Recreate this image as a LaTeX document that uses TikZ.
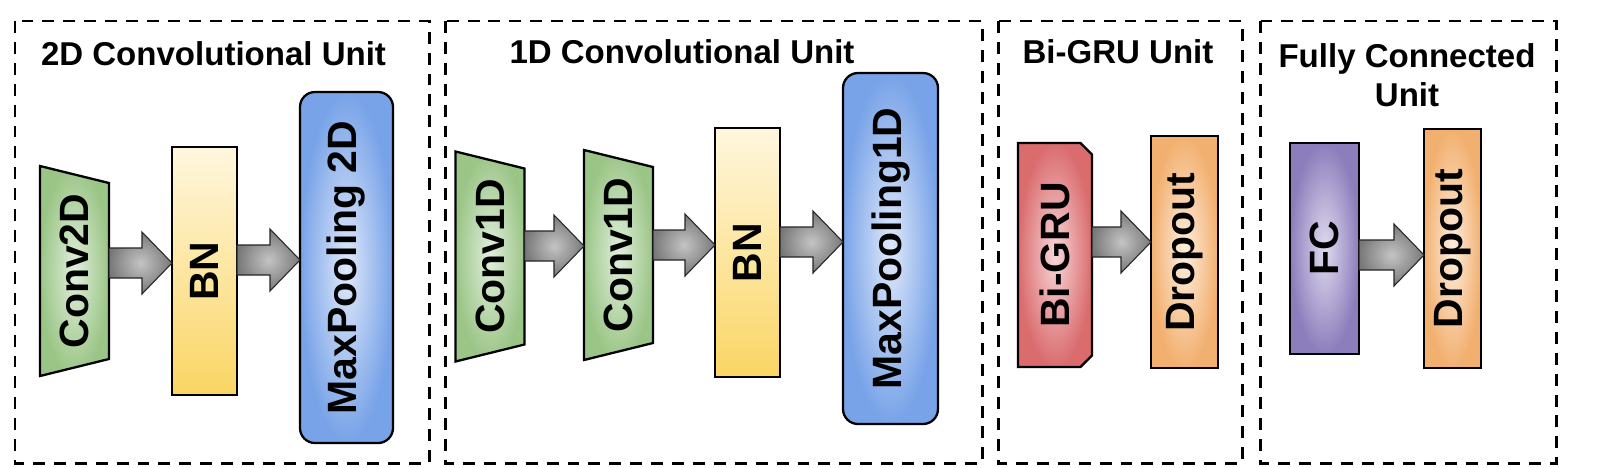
\documentclass[tikz,border=0pt]{standalone}
\usepackage{fontspec}
\setmainfont{Liberation Sans}
\usetikzlibrary{calc,shapes.misc}
\definecolor{convout}{RGB}{155,197,135}
\definecolor{convin} {RGB}{224,239,218}
\definecolor{bntop}  {RGB}{255,247,222}
\definecolor{bnbot}  {RGB}{250,213,100}
\definecolor{poolout}{RGB}{120,163,232}
\definecolor{poolin} {RGB}{224,233,250}
\definecolor{gruout} {RGB}{218,108,110}
\definecolor{gruin}  {RGB}{248,214,216}
\definecolor{dropout}{RGB}{242,176,112}
\definecolor{dropin} {RGB}{254,238,222}
\definecolor{fcout}  {RGB}{140,126,188}
\definecolor{fcin}   {RGB}{224,218,239}
\definecolor{flowout}{RGB}{120,120,120}
\definecolor{flowin} {RGB}{196,196,196}

\tikzset{
    dims/.style 2 args={minimum width=#1*0.02cm,minimum height=#2*0.02cm},
    unit/.style={draw,line width=1.7pt,dash pattern=on 6.8pt off 5.1pt},
    heading/.style={anchor=base,align=center,font=\bfseries\fontsize{18.8}{22.2}\selectfont},
    convbox/.style={draw,line width=1.3pt,shading=radial,inner color=convin,outer color=convout},
    bnbox/.style={draw,line width=1.3pt,top color=bntop,bottom color=bnbot},
    poolbox/.style={draw,line width=1.3pt,rounded corners=0.3cm,shading=radial,inner color=poolin,outer color=poolout},
    grubox/.style={draw,line width=1.3pt,chamfered rectangle,chamfered rectangle corners={north east,south east},
      chamfered rectangle xsep=0.11cm,chamfered rectangle ysep=0.12cm,shading=radial,inner color=gruin,outer color=gruout},
    dropbox/.style={draw,line width=1.3pt,shading=radial,inner color=dropin,outer color=dropout},
    fcbox/.style={draw,line width=1.3pt,shading=radial,inner color=fcin,outer color=fcout},
    flow/.style={draw=black!85,line width=0.6pt,shading=radial,inner color=flowin,outer color=flowout}
}

\newcommand\vtext[1]{\rotatebox{90}{#1}}
% trapezoid conv block: name, x, y, text
\newcommand\convunit[4]{%
  \path[convbox] (#2-34.5,#3-105) -- (#2+34.5,#3-88) -- (#2+34.5,#3+88) -- (#2-34.5,#3+105) -- cycle;
  \node[dims={69}{210}] (#1) at (#2,#3) {\vtext{#4}};}
% block arrow: from, to, y
\newcommand\blockarrow[3]{%
  \path[flow] ($(#1.east |- 0,#3)+(0,-15)$) -- ($(#2.west |- 0,#3)+(-30,-15)$)
    -- ($(#2.west |- 0,#3)+(-30,-31)$) -- (#2.west |- 0,#3)
    -- ($(#2.west |- 0,#3)+(-30,31)$) -- ($(#2.west |- 0,#3)+(-30,15)$)
    -- ($(#1.east |- 0,#3)+(0,15)$) -- cycle;}

\begin{document}
\begin{tikzpicture}[x=0.02cm,y=-0.02cm,
    every node/.style={inner sep=0pt,outer sep=0pt,font=\bfseries\fontsize{23.3}{28}\selectfont}]

    \useasboundingbox[fill=white] (0,0) rectangle (1615,467);

    % units
    \draw[unit] (15,21) rectangle (429,463);
    \draw[unit] (445,21) rectangle (982,463);
    \draw[unit] (998,21) rectangle (1242,463);
    \draw[unit] (1260,21) rectangle (1556,463);
    \node[heading] (t2d) at (213.5,65) {2D Convolutional Unit};
    \node[heading] (t1d) at (682,63) {1D Convolutional Unit};
    \node[heading] (tgru) at (1118,63) {Bi-GRU Unit};
    \node[heading] (tfc) at (1407,106) {Fully Connected\\Unit};

    % 2D convolutional unit
    \convunit{c2d}{74.5}{271}{Conv2D}
    \node[bnbox,dims={65}{248}] (bn1) at (204.5,271) {\vtext{BN}};
    \node[poolbox,dims={93}{351}] (mp2d) at (346.5,267.5) {\vtext{MaxPooling 2D}};
    \blockarrow{c2d}{bn1}{263}
    \blockarrow{bn1}{mp2d}{260}

    % 1D convolutional unit
    \convunit{c1a}{490}{256.5}{Conv1D}
    \convunit{c1b}{618.5}{255}{Conv1D}
    \node[bnbox,dims={65}{249}] (bn2) at (747.5,252.5) {\vtext{BN}};
    \node[poolbox,dims={95}{351}] (mp1d) at (890.5,248.5) {\vtext{MaxPooling1D}};
    \blockarrow{c1a}{c1b}{246}
    \blockarrow{c1b}{bn2}{245}
    \blockarrow{bn2}{mp1d}{242}

    % Bi-GRU unit
    \node[grubox,dims={74}{224}] (gru) at (1055,255) {\vtext{Bi-GRU}};
    \node[dropbox,dims={67}{232}] (do1) at (1184.5,252) {\vtext{Dropout}};
    \blockarrow{gru}{do1}{242}

    % fully connected unit
    \node[fcbox,dims={69}{211}] (fc) at (1324.5,248.5) {\vtext{FC}};
    \node[dropbox,dims={57}{239}] (do2) at (1452.5,248.5) {\vtext{Dropout}};
    \blockarrow{fc}{do2}{255}

\end{tikzpicture}
\end{document}
